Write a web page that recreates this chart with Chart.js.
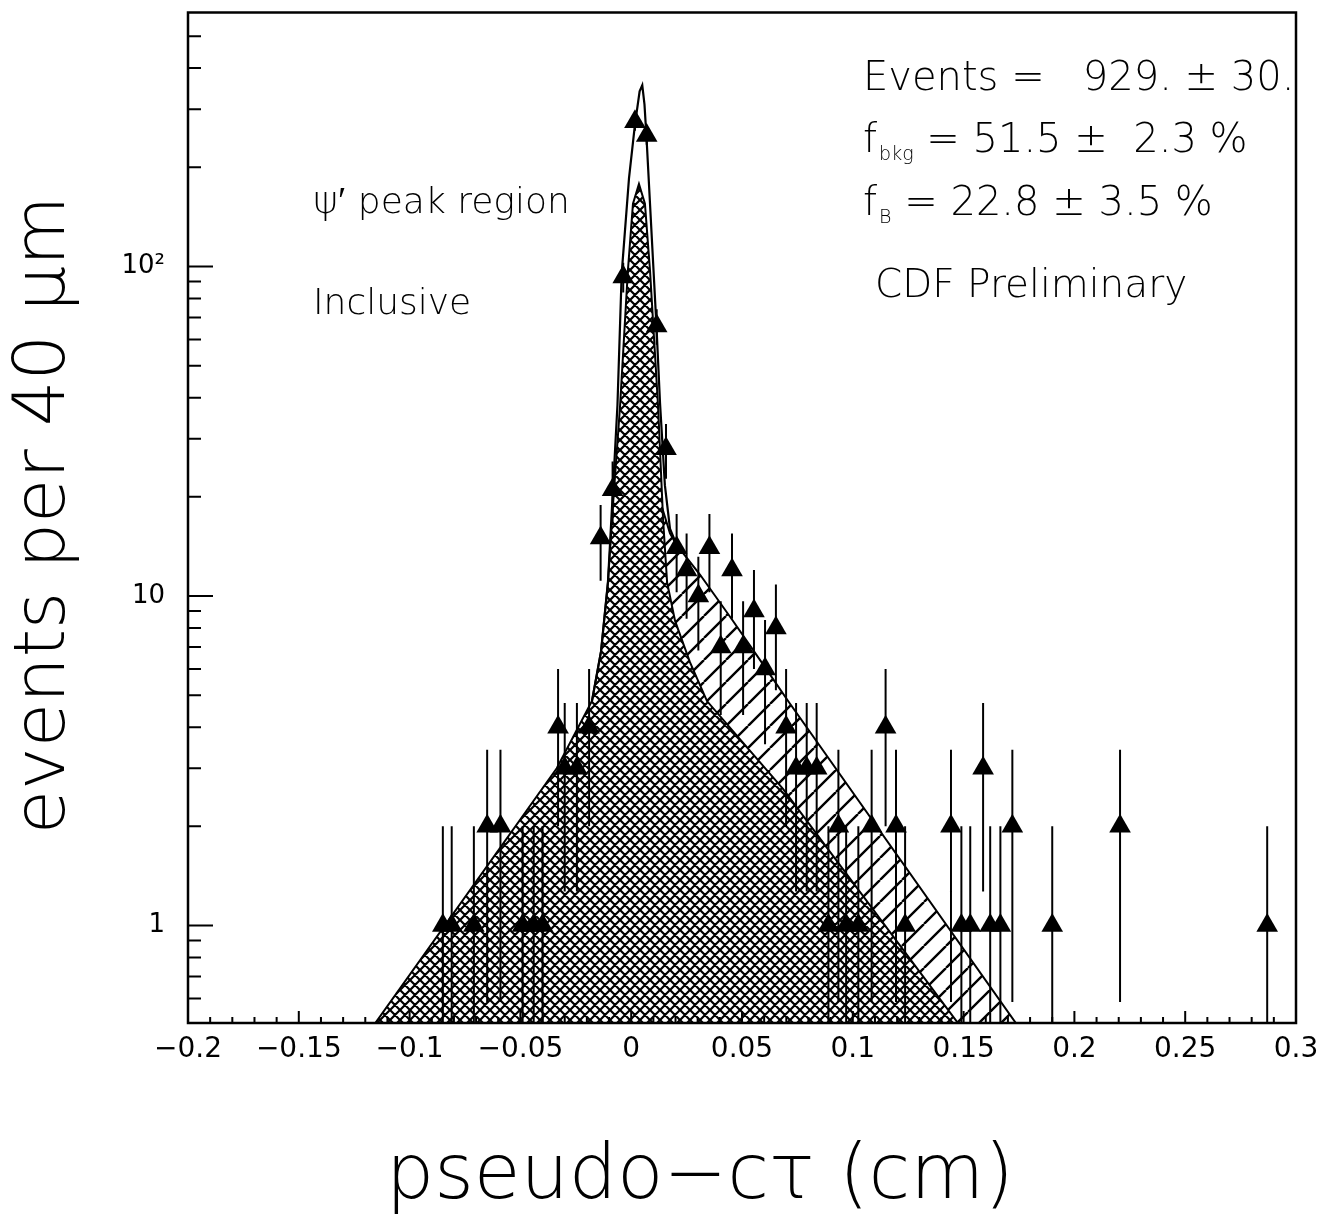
<!DOCTYPE html>
<html><head><meta charset="utf-8">
<script src="https://cdn.jsdelivr.net/npm/chart.js@4.4.0/dist/chart.umd.min.js"></script>
<style>html,body{margin:0;padding:0;background:#fff;}</style>
</head><body>
<canvas id="c" width="1330" height="1221"></canvas>
<script>
// ---- data ----
const pointX = [-0.085,-0.081,-0.071,-0.065,-0.059,-0.049,-0.044,-0.040,-0.033,-0.030,-0.0245,-0.019,-0.0138,-0.0084,-0.0036,0.0017,0.007,0.0115,0.0157,0.0205,0.025,0.0303,0.0353,0.0404,0.0455,0.0505,0.0554,0.0604,0.0653,0.0699,0.0744,0.0792,0.0837,0.089,0.0935,0.097,0.1025,0.1085,0.1148,0.1195,0.1236,0.1443,0.149,0.153,0.1588,0.162,0.1666,0.172,0.190,0.2206,0.287];
const pointN = [1,1,1,2,2,1,1,1,4,3,3,4,15,21,93,275,250,66,28,14,12,10,14,7,12,7,9,6,8,4,3,3,3,1,2,1,1,2,4,2,1,2,1,1,3,1,1,2,1,2,1];

// background component (cross-hatched)
const bkgX = [-0.116,-0.0336,-0.0177,-0.0136,-0.0105,-0.0082,-0.0050,-0.0015,0.0008,0.0035,0.0062,0.0085,0.0121,0.0144,0.0162,0.0198,0.0265,0.0342,0.0685,0.148];
const bkgY = [0.5,3.0,4.8,6.8,11,19,38,97,155,178,155,97,38,17,11,8.4,6.3,4.8,2.6,0.5];

// background + B component (single hatch)
const bX = [0.0140,0.0175,0.0205,0.0311,0.0454,0.0595,0.0708,0.1741];
const bY = [18.5,15.5,14.3,11.6,8.5,6.2,4.8,0.5];

// total fit
const totX = [-0.0177,-0.0136,-0.0105,-0.0085,-0.0062,-0.0043,-0.0010,0.0017,0.0038,0.0050,0.0060,0.0069,0.0114,0.0130,0.0152,0.0175,0.0205];
const totY = [4.8,6.8,11,19.5,38,95,185,270,340,355,310,247,66,38.6,21.7,16,14.3];

// axes
const xTickValues = [-0.2,-0.15,-0.1,-0.05,0,0.05,0.1,0.15,0.2,0.25,0.3];
const xTickLabels = ['\u22120.2','\u22120.15','\u22120.1','\u22120.05','0','0.05','0.1','0.15','0.2','0.25','0.3'];
const xMinorTicks = [-0.19,-0.18,-0.17,-0.16,-0.14,-0.13,-0.12,-0.11,-0.09,-0.08,-0.07,-0.06,-0.04,-0.03,-0.02,-0.01,0.01,0.02,0.03,0.04,0.06,0.07,0.08,0.09,0.11,0.12,0.13,0.14,0.16,0.17,0.18,0.19,0.21,0.22,0.23,0.24,0.26,0.27,0.28,0.29];
const yTickValues = [1,10,100];
const yTickLabels = ['1','10','10\u00B2'];
const yMinorTicks = [0.6,0.7,0.8,0.9,2,3,4,5,6,7,8,9,20,30,40,50,60,70,80,90,200,300,400,500];
const yMin = 0.506, yMax = 590;

const canvas = document.getElementById('c');
const ctx0 = canvas.getContext('2d');

function hatch(size, dirs, lw, bg) {
  const t = document.createElement('canvas'); t.width = size; t.height = size;
  const g = t.getContext('2d');
  if (bg) { g.fillStyle = bg; g.fillRect(0, 0, size, size); }
  g.strokeStyle = '#000'; g.lineWidth = lw;
  g.beginPath();
  for (const o of [-size, 0, size]) {
    if (dirs.indexOf('/') >= 0) { g.moveTo(o, size); g.lineTo(o + size, 0); }
    if (dirs.indexOf('\\') >= 0) { g.moveTo(o, 0); g.lineTo(o + size, size); }
  }
  g.stroke();
  return ctx0.createPattern(t, 'repeat');
}
const crossPat = hatch(10, '/\\', 2.2, '#fff');
const slashPat = hatch(22, '/', 2.4, null);

const toXY = (xs, ys) => xs.map((x, i) => ({x: x, y: ys[i]}));
const pts = toXY(pointX, pointN);
const errs = [];
pointX.forEach((x, i) => {
  const n = pointN[i], s = Math.sqrt(n);
  errs.push({x: x, y: Math.max(n - s, 0.3)}, {x: x, y: n + s}, {x: x, y: null});
});

const FONT = '"DejaVu Sans"';

const decor = {
  id: 'decor',
  afterDatasetsDraw(chart) {
    const {ctx, chartArea: a, scales: {x, y}} = chart;
    ctx.save();
    ctx.strokeStyle = '#000';
    ctx.lineWidth = 2;
    ctx.beginPath();
    xMinorTicks.forEach(v => { const p = x.getPixelForValue(v); ctx.moveTo(p, a.bottom); ctx.lineTo(p, a.bottom - 6); });
    xTickValues.forEach(v => { const p = x.getPixelForValue(v); ctx.moveTo(p, a.bottom); ctx.lineTo(p, a.bottom - 12); });
    yMinorTicks.forEach(v => { const p = y.getPixelForValue(v); ctx.moveTo(a.left, p); ctx.lineTo(a.left + 13, p); });
    yTickValues.forEach(v => { const p = y.getPixelForValue(v); ctx.moveTo(a.left, p); ctx.lineTo(a.left + 25, p); });
    ctx.stroke();
    ctx.lineWidth = 2.5;
    ctx.strokeRect(a.left, a.top, a.right - a.left, a.bottom - a.top);
    ctx.restore();
  },
  afterDraw(chart) {
    const ctx = chart.ctx;
    ctx.save();
    ctx.fillStyle = '#000';
    ctx.textBaseline = 'alphabetic';
    ctx.textAlign = 'left';
    const big = '200 40px ' + FONT, sub = '200 19px ' + FONT;
    ctx.font = big;
    ctx.fillText('Events =   929. \u00B1 30.', 863, 90);
    let xx = 863;
    ctx.fillText('f', xx, 152); xx += ctx.measureText('f').width + 2;
    ctx.font = sub; ctx.fillText('bkg', xx, 160); xx += ctx.measureText('bkg').width;
    ctx.font = big; ctx.fillText(' = 51.5 \u00B1  2.3 %', xx, 152);
    xx = 863;
    ctx.fillText('f', xx, 215); xx += ctx.measureText('f').width + 2;
    ctx.font = sub; ctx.fillText('B', xx, 223); xx += ctx.measureText('B').width;
    ctx.font = big; ctx.fillText(' = 22.8 \u00B1 3.5 %', xx, 215);
    ctx.font = '200 39px ' + FONT;
    ctx.fillText('CDF Preliminary', 875, 297);
    ctx.font = '200 38px ' + FONT;
    ctx.fillText('\u03C8\u2032', 313, 213);
    const w = ctx.measureText('\u03C8\u2032').width;
    ctx.font = '200 36px ' + FONT;
    ctx.fillText(' peak region', 313 + w, 213);
    ctx.fillText('Inclusive', 313, 314);
    ctx.textAlign = 'center';
    ctx.textBaseline = 'middle';
    ctx.font = '200 76px ' + FONT;
    ctx.fillText('pseudo\u2212c\u03C4 (cm)', 700, 1178);
    ctx.save();
    ctx.translate(45, 515);
    ctx.rotate(-Math.PI / 2);
    ctx.font = '200 72px ' + FONT;
    ctx.fillText('events per 40 \u03BCm', 0, 0);
    ctx.restore();
    ctx.restore();
  }
};

new Chart(canvas, {
  type: 'line',
  data: {
    datasets: [
      { label: 'data', data: pts, showLine: false, pointStyle: 'triangle', pointRadius: 12.5,
        pointBackgroundColor: '#000', pointBorderColor: '#000', pointBorderWidth: 0, order: 0 },
      { label: 'errors', data: errs, borderColor: '#000', borderWidth: 2, pointRadius: 0,
        spanGaps: false, fill: false, order: 1 },
      { label: 'total', data: toXY(totX, totY), borderColor: '#000', borderWidth: 2.2,
        pointRadius: 0, fill: false, tension: 0, order: 2 },
      { label: 'bkg', data: toXY(bkgX, bkgY), borderColor: '#000', borderWidth: 2,
        pointRadius: 0, fill: 'start', backgroundColor: crossPat, order: 3 },
      { label: 'B', data: toXY(bX, bY), borderColor: '#000', borderWidth: 2,
        pointRadius: 0, fill: 'start', backgroundColor: slashPat, order: 4 }
    ]
  },
  options: {
    responsive: false,
    animation: false,
    devicePixelRatio: 1,
    events: [],
    layout: { padding: { top: 8, right: 34, left: 0, bottom: 0 } },
    plugins: { legend: { display: false }, tooltip: { enabled: false } },
    scales: {
      x: {
        type: 'linear', min: -0.2, max: 0.3,
        afterBuildTicks: s => { s.ticks = xTickValues.map(v => ({value: v})); },
        afterFit: s => { s.height = 198; s.paddingLeft = 0; s.paddingRight = 0; },
        grid: { display: false, drawTicks: false },
        border: { display: false },
        ticks: { autoSkip: false, maxRotation: 0, color: '#000', padding: 10,
          font: { family: 'DejaVu Sans', size: 28 },
          callback: (v, i) => xTickLabels[i] }
      },
      y: {
        type: 'logarithmic', min: yMin, max: yMax,
        afterBuildTicks: s => { s.ticks = yTickValues.map(v => ({value: v})); },
        afterFit: s => { s.width = 188; s.paddingTop = 0; s.paddingBottom = 0; },
        grid: { display: false, drawTicks: false },
        border: { display: false },
        ticks: { autoSkip: false, color: '#000', padding: 23,
          font: { family: 'DejaVu Sans', size: 26 },
          callback: (v, i) => yTickLabels[i] }
      }
    }
  },
  plugins: [decor]
});
</script>
</body></html>
